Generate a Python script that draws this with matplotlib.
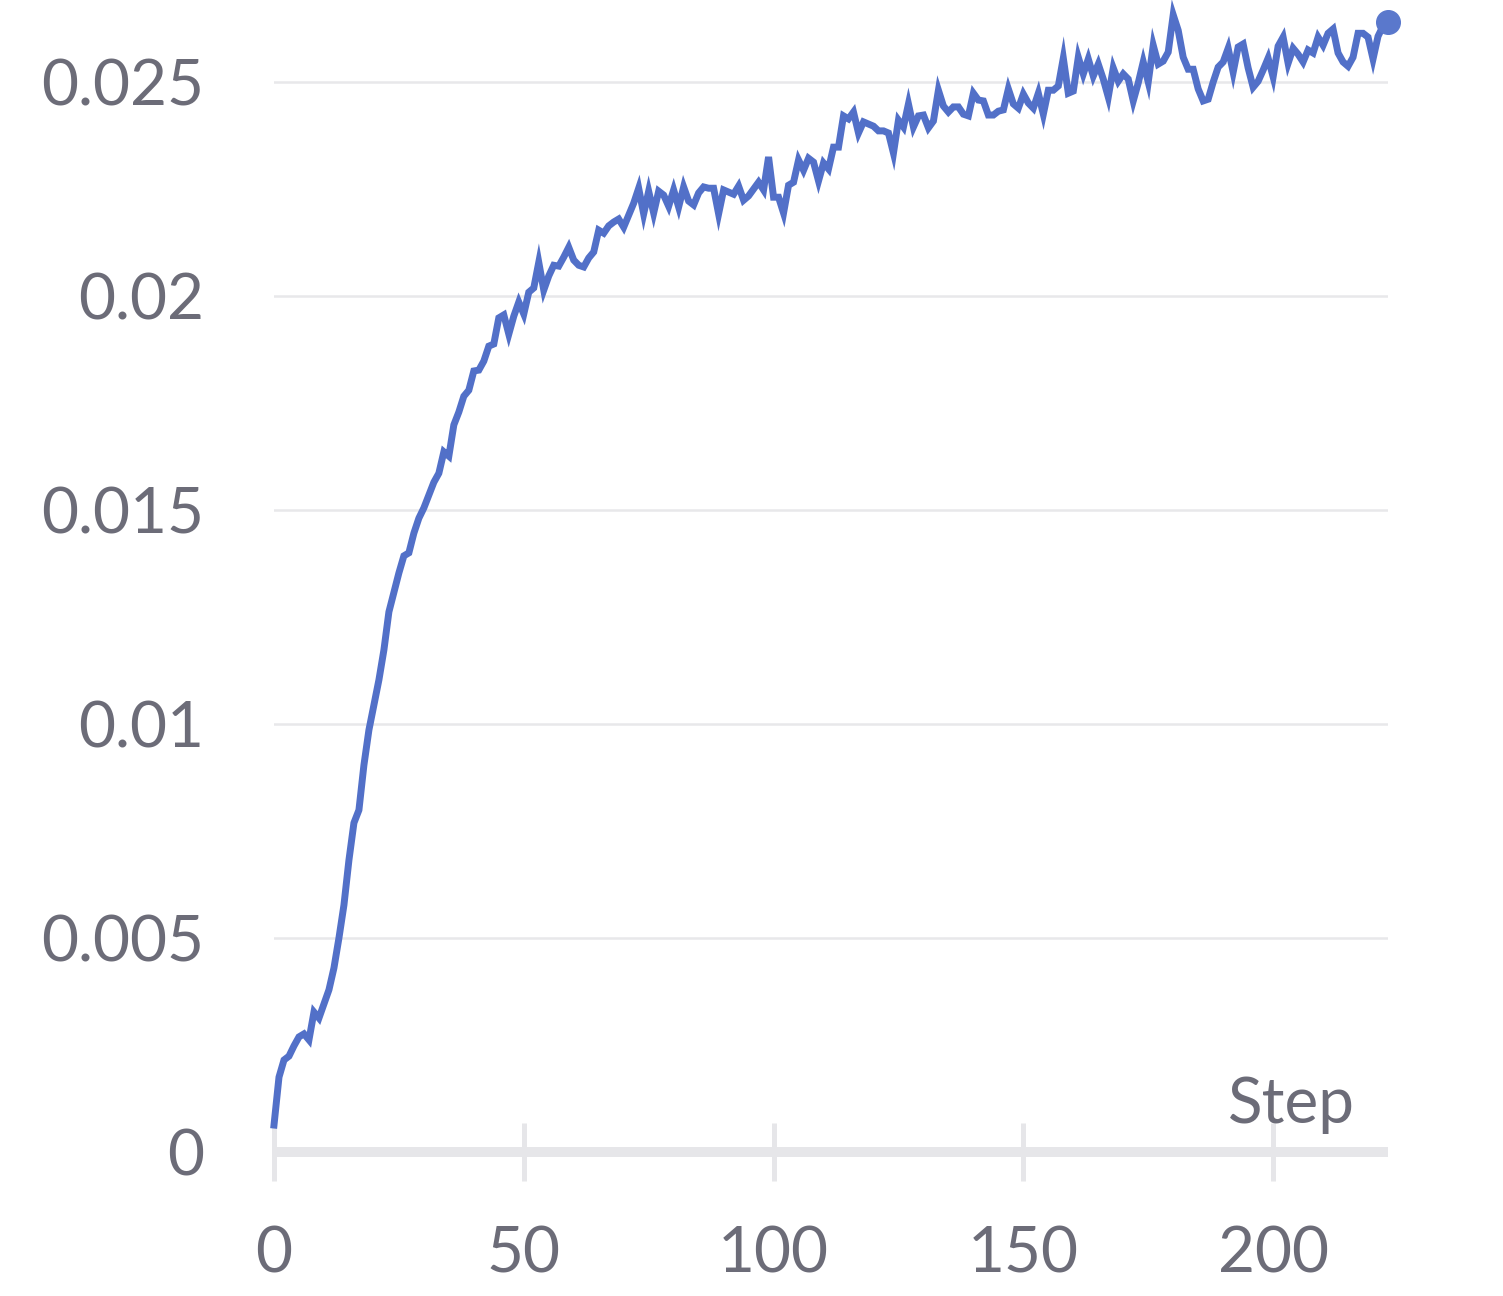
import numpy as np
import matplotlib
matplotlib.use("Agg")
import matplotlib.pyplot as plt

# values, one per step
steps = np.arange(0, 224)
values = [
    0.00063, 0.00175, 0.00215, 0.00224, 0.00248, 0.00269, 0.00276, 0.00262, 0.00327, 0.00313,
    0.00346, 0.00379, 0.0043, 0.005, 0.00577, 0.00682, 0.00769, 0.00799, 0.00904, 0.00986,
    0.01044, 0.01103, 0.01173, 0.01262, 0.01308, 0.01353, 0.01393, 0.014, 0.01446, 0.01481,
    0.01505, 0.01535, 0.01565, 0.01586, 0.01636, 0.01626, 0.01699, 0.01729, 0.01766, 0.0178,
    0.01825, 0.01827, 0.01848, 0.01883, 0.01888, 0.01949, 0.01956, 0.01911, 0.01953, 0.01986,
    0.01958, 0.02009, 0.02019, 0.02079, 0.02014, 0.02047, 0.02072, 0.0207, 0.02091, 0.02114,
    0.02084, 0.02072, 0.02068, 0.02089, 0.02103, 0.02154, 0.02147, 0.02164, 0.02173, 0.0218,
    0.02161, 0.02189, 0.02217, 0.02252, 0.02192, 0.02245, 0.02194, 0.02245, 0.02236, 0.0221,
    0.02248, 0.02208, 0.02255, 0.02222, 0.02213, 0.02241, 0.02255, 0.02252, 0.02252, 0.02192,
    0.02248, 0.02243, 0.02238, 0.02257, 0.02224, 0.02234, 0.0225, 0.02266, 0.02248, 0.02325,
    0.02231, 0.02231, 0.02194, 0.02259, 0.02266, 0.02318, 0.02294, 0.02322, 0.02313, 0.02269,
    0.02311, 0.02297, 0.02348, 0.02348, 0.02421, 0.02414, 0.0243, 0.02381, 0.02407, 0.02402,
    0.02397, 0.02386, 0.02386, 0.02381, 0.02334, 0.02411, 0.02395, 0.02449, 0.02395, 0.02421,
    0.02423, 0.02393, 0.02409, 0.02481, 0.02444, 0.0243, 0.02442, 0.02442, 0.02425, 0.02421,
    0.02474, 0.02458, 0.02456, 0.02423, 0.02423, 0.02432, 0.02435, 0.02484, 0.02449, 0.02439,
    0.02472, 0.02451, 0.02439, 0.02474, 0.02425, 0.02481, 0.02481, 0.02491, 0.02556, 0.02474,
    0.02479, 0.02558, 0.02519, 0.02554, 0.02514, 0.02542, 0.02507, 0.02465, 0.02533, 0.02502,
    0.02519, 0.02507, 0.02456, 0.02498, 0.02547, 0.025, 0.02586, 0.02542, 0.02549, 0.0257,
    0.02657, 0.02621, 0.02558, 0.0253, 0.0253, 0.02484, 0.02456, 0.0246, 0.025, 0.02535,
    0.02547, 0.02579, 0.02523, 0.02582, 0.02589, 0.02533, 0.02488, 0.02502, 0.02528, 0.02556,
    0.02512, 0.02584, 0.02605, 0.02544, 0.02579, 0.02565, 0.02547, 0.02575, 0.02568, 0.02605,
    0.02586, 0.02614, 0.02624, 0.02568, 0.02547, 0.02537, 0.02558, 0.02614, 0.02614, 0.02605,
    0.02554, 0.02607, 0.02631, 0.0264,
]
xticks = [0, 50, 100, 150, 200]
yticks = [0, 0.005, 0.01, 0.015, 0.02, 0.025]
ytick_labels = ["0", "0.005", "0.01", "0.015", "0.02", "0.025"]
xlabel = "Step"

line_color = "#5270c8"
text_color = "#6c6c78"
axis_color = "#e6e6e9"
grid_color = "#e8e8ea"

plt.rcParams['font.family'] = ['Lato', 'DejaVu Sans']

fig = plt.figure(figsize=(15.03, 12.96), dpi=100)
ax = fig.add_axes([0.1823, 0.1111, 0.7412, 0.8850])

for yv in yticks[1:]:
    ax.axhline(yv, color=grid_color, lw=1.8, zorder=1)

ax.plot(steps, values, color=line_color, lw=5.0, zorder=3, clip_on=False,
        solid_joinstyle='miter')
ax.plot(steps[-1], values[-1], 'o', color="#5a78cc", ms=17, zorder=4, clip_on=False)

ax.set_xlim(0, 223)
ax.set_ylim(0, 0.0268)

for s in ['top', 'right', 'left']:
    ax.spines[s].set_visible(False)
ax.spines['bottom'].set_color(axis_color)
ax.spines['bottom'].set_linewidth(7.2)
ax.spines['bottom'].set_capstyle('butt')

ax.set_xticks(xticks)
ax.set_xticklabels([str(t) for t in xticks])
ax.set_yticks(yticks)
ax.set_yticklabels(ytick_labels)
ax.tick_params(axis='x', direction='inout', length=42, width=3.6, color=axis_color,
               labelsize=46, labelcolor=text_color, pad=32)
ax.tick_params(axis='y', length=0, labelsize=46, labelcolor=text_color, pad=50)

ax.text(0.9704, 0.0253, xlabel, transform=ax.transAxes, ha='right', va='baseline',
        fontsize=46, color=text_color)

fig.savefig("out.png", dpi=100)
